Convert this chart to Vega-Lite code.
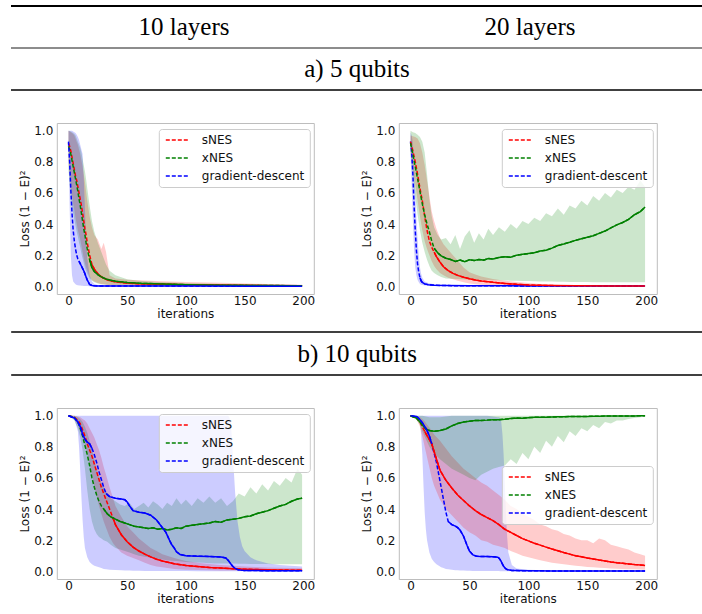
{
"background": "white",
"padding": {"left": 10, "top": 5, "right": 0, "bottom": 0},
"config": {
 "view": {"stroke": "#bdbdbd", "strokeWidth": 1},
 "axis": {"domain": false, "ticks": false, "tickSize": 0, "grid": false, "labelOverlap": false, "labelFlush": false, "labelFont": "DejaVu Sans", "labelFontSize": 12, "labelColor": "#111", "titleFont": "DejaVu Sans", "titleFontSize": 12, "titleFontWeight": "normal", "titleColor": "#111"},
 "legend": {"fillColor": "rgba(255,255,255,0.8)", "strokeColor": "#cccccc", "cornerRadius": 3, "padding": 5, "zindex": 1}
},
"datasets": {"runs": [
{"p":"a10","m":"sNES","i":0,"y":0.92,"lo":0.8,"hi":1},
{"p":"a10","m":"sNES","i":1,"y":0.9,"lo":0.72,"hi":0.995},
{"p":"a10","m":"sNES","i":2,"y":0.87,"lo":0.65,"hi":0.99},
{"p":"a10","m":"sNES","i":3,"y":0.83,"lo":0.58,"hi":0.985},
{"p":"a10","m":"sNES","i":4,"y":0.79,"lo":0.53,"hi":0.98},
{"p":"a10","m":"sNES","i":5,"y":0.75,"lo":0.49,"hi":0.97},
{"p":"a10","m":"sNES","i":6,"y":0.71,"lo":0.44,"hi":0.95},
{"p":"a10","m":"sNES","i":7,"y":0.68,"lo":0.4,"hi":0.93},
{"p":"a10","m":"sNES","i":8,"y":0.64,"lo":0.36,"hi":0.91},
{"p":"a10","m":"sNES","i":9,"y":0.6,"lo":0.33,"hi":0.88},
{"p":"a10","m":"sNES","i":10,"y":0.56,"lo":0.3,"hi":0.85},
{"p":"a10","m":"sNES","i":11,"y":0.52,"lo":0.26,"hi":0.81},
{"p":"a10","m":"sNES","i":12,"y":0.47,"lo":0.22,"hi":0.77},
{"p":"a10","m":"sNES","i":13,"y":0.42,"lo":0.18,"hi":0.72},
{"p":"a10","m":"sNES","i":14,"y":0.37,"lo":0.15,"hi":0.67},
{"p":"a10","m":"sNES","i":15,"y":0.33,"lo":0.12,"hi":0.61},
{"p":"a10","m":"sNES","i":16,"y":0.28,"lo":0.1,"hi":0.55},
{"p":"a10","m":"sNES","i":18,"y":0.2,"lo":0.06,"hi":0.45},
{"p":"a10","m":"sNES","i":20,"y":0.14,"lo":0.04,"hi":0.38},
{"p":"a10","m":"sNES","i":22,"y":0.11,"lo":0.03,"hi":0.33},
{"p":"a10","m":"sNES","i":25,"y":0.08,"lo":0.02,"hi":0.3},
{"p":"a10","m":"sNES","i":28,"y":0.06,"lo":0.015,"hi":0.24},
{"p":"a10","m":"sNES","i":30,"y":0.052,"lo":0.012,"hi":0.28},
{"p":"a10","m":"sNES","i":32,"y":0.045,"lo":0.01,"hi":0.22},
{"p":"a10","m":"sNES","i":35,"y":0.036,"lo":0.008,"hi":0.07},
{"p":"a10","m":"sNES","i":40,"y":0.028,"lo":0.006,"hi":0.05},
{"p":"a10","m":"sNES","i":50,"y":0.02,"lo":0.004,"hi":0.042},
{"p":"a10","m":"sNES","i":60,"y":0.016,"lo":0.003,"hi":0.038},
{"p":"a10","m":"sNES","i":80,"y":0.012,"lo":0.002,"hi":0.032},
{"p":"a10","m":"sNES","i":100,"y":0.009,"lo":0.001,"hi":0.028},
{"p":"a10","m":"sNES","i":130,"y":0.006,"lo":0.001,"hi":0.022},
{"p":"a10","m":"sNES","i":160,"y":0.004,"lo":0,"hi":0.016},
{"p":"a10","m":"sNES","i":199,"y":0.003,"lo":0,"hi":0.01},
{"p":"a10","m":"xNES","i":0,"y":0.9,"lo":0.75,"hi":1},
{"p":"a10","m":"xNES","i":1,"y":0.88,"lo":0.66,"hi":0.998},
{"p":"a10","m":"xNES","i":2,"y":0.85,"lo":0.58,"hi":0.995},
{"p":"a10","m":"xNES","i":3,"y":0.81,"lo":0.52,"hi":0.99},
{"p":"a10","m":"xNES","i":4,"y":0.77,"lo":0.47,"hi":0.985},
{"p":"a10","m":"xNES","i":5,"y":0.73,"lo":0.43,"hi":0.98},
{"p":"a10","m":"xNES","i":6,"y":0.69,"lo":0.39,"hi":0.97},
{"p":"a10","m":"xNES","i":7,"y":0.65,"lo":0.35,"hi":0.95},
{"p":"a10","m":"xNES","i":8,"y":0.61,"lo":0.32,"hi":0.93},
{"p":"a10","m":"xNES","i":9,"y":0.56,"lo":0.28,"hi":0.91},
{"p":"a10","m":"xNES","i":10,"y":0.52,"lo":0.25,"hi":0.89},
{"p":"a10","m":"xNES","i":11,"y":0.47,"lo":0.21,"hi":0.86},
{"p":"a10","m":"xNES","i":12,"y":0.42,"lo":0.18,"hi":0.82},
{"p":"a10","m":"xNES","i":13,"y":0.37,"lo":0.15,"hi":0.78},
{"p":"a10","m":"xNES","i":14,"y":0.33,"lo":0.12,"hi":0.74},
{"p":"a10","m":"xNES","i":15,"y":0.28,"lo":0.1,"hi":0.69},
{"p":"a10","m":"xNES","i":16,"y":0.24,"lo":0.08,"hi":0.63},
{"p":"a10","m":"xNES","i":18,"y":0.17,"lo":0.05,"hi":0.52},
{"p":"a10","m":"xNES","i":20,"y":0.12,"lo":0.035,"hi":0.42},
{"p":"a10","m":"xNES","i":22,"y":0.095,"lo":0.025,"hi":0.35},
{"p":"a10","m":"xNES","i":25,"y":0.075,"lo":0.018,"hi":0.28},
{"p":"a10","m":"xNES","i":28,"y":0.06,"lo":0.013,"hi":0.22},
{"p":"a10","m":"xNES","i":30,"y":0.053,"lo":0.011,"hi":0.18},
{"p":"a10","m":"xNES","i":32,"y":0.047,"lo":0.009,"hi":0.14},
{"p":"a10","m":"xNES","i":35,"y":0.04,"lo":0.007,"hi":0.1},
{"p":"a10","m":"xNES","i":40,"y":0.032,"lo":0.005,"hi":0.07},
{"p":"a10","m":"xNES","i":50,"y":0.024,"lo":0.004,"hi":0.045},
{"p":"a10","m":"xNES","i":60,"y":0.019,"lo":0.003,"hi":0.035},
{"p":"a10","m":"xNES","i":80,"y":0.014,"lo":0.002,"hi":0.026},
{"p":"a10","m":"xNES","i":100,"y":0.01,"lo":0.001,"hi":0.02},
{"p":"a10","m":"xNES","i":130,"y":0.007,"lo":0.001,"hi":0.015},
{"p":"a10","m":"xNES","i":160,"y":0.005,"lo":0,"hi":0.011},
{"p":"a10","m":"xNES","i":199,"y":0.003,"lo":0,"hi":0.007},
{"p":"a10","m":"gradient-descent","i":0,"y":0.93,"lo":0.9,"hi":1},
{"p":"a10","m":"gradient-descent","i":1,"y":0.8,"lo":0.5,"hi":1},
{"p":"a10","m":"gradient-descent","i":2,"y":0.62,"lo":0.2,"hi":1},
{"p":"a10","m":"gradient-descent","i":3,"y":0.47,"lo":0.07,"hi":1},
{"p":"a10","m":"gradient-descent","i":4,"y":0.36,"lo":0.03,"hi":0.995},
{"p":"a10","m":"gradient-descent","i":5,"y":0.29,"lo":0.02,"hi":0.99},
{"p":"a10","m":"gradient-descent","i":6,"y":0.24,"lo":0.012,"hi":0.985},
{"p":"a10","m":"gradient-descent","i":7,"y":0.2,"lo":0.008,"hi":0.975},
{"p":"a10","m":"gradient-descent","i":8,"y":0.175,"lo":0.006,"hi":0.96},
{"p":"a10","m":"gradient-descent","i":9,"y":0.16,"lo":0.005,"hi":0.94},
{"p":"a10","m":"gradient-descent","i":10,"y":0.145,"lo":0.004,"hi":0.91},
{"p":"a10","m":"gradient-descent","i":11,"y":0.13,"lo":0.003,"hi":0.88},
{"p":"a10","m":"gradient-descent","i":12,"y":0.115,"lo":0.003,"hi":0.85},
{"p":"a10","m":"gradient-descent","i":13,"y":0.1,"lo":0.002,"hi":0.7},
{"p":"a10","m":"gradient-descent","i":14,"y":0.08,"lo":0.002,"hi":0.5},
{"p":"a10","m":"gradient-descent","i":15,"y":0.06,"lo":0.001,"hi":0.3},
{"p":"a10","m":"gradient-descent","i":16,"y":0.04,"lo":0.001,"hi":0.18},
{"p":"a10","m":"gradient-descent","i":18,"y":0.012,"lo":0,"hi":0.07},
{"p":"a10","m":"gradient-descent","i":20,"y":0.005,"lo":0,"hi":0.03},
{"p":"a10","m":"gradient-descent","i":22,"y":0.003,"lo":0,"hi":0.015},
{"p":"a10","m":"gradient-descent","i":25,"y":0.002,"lo":0,"hi":0.008},
{"p":"a10","m":"gradient-descent","i":30,"y":0.002,"lo":0,"hi":0.006},
{"p":"a10","m":"gradient-descent","i":40,"y":0.001,"lo":0,"hi":0.005},
{"p":"a10","m":"gradient-descent","i":60,"y":0.001,"lo":0,"hi":0.004},
{"p":"a10","m":"gradient-descent","i":100,"y":0.001,"lo":0,"hi":0.003},
{"p":"a10","m":"gradient-descent","i":160,"y":0,"lo":0,"hi":0.002},
{"p":"a10","m":"gradient-descent","i":199,"y":0,"lo":0,"hi":0.002},
{"p":"a20","m":"gradient-descent","i":0,"y":0.93,"lo":0.85,"hi":0.99},
{"p":"a20","m":"gradient-descent","i":1,"y":0.86,"lo":0.65,"hi":0.97},
{"p":"a20","m":"gradient-descent","i":2,"y":0.72,"lo":0.42,"hi":0.92},
{"p":"a20","m":"gradient-descent","i":3,"y":0.52,"lo":0.24,"hi":0.8},
{"p":"a20","m":"gradient-descent","i":4,"y":0.36,"lo":0.12,"hi":0.6},
{"p":"a20","m":"gradient-descent","i":5,"y":0.23,"lo":0.07,"hi":0.43},
{"p":"a20","m":"gradient-descent","i":6,"y":0.14,"lo":0.04,"hi":0.3},
{"p":"a20","m":"gradient-descent","i":7,"y":0.09,"lo":0.025,"hi":0.2},
{"p":"a20","m":"gradient-descent","i":8,"y":0.055,"lo":0.015,"hi":0.12},
{"p":"a20","m":"gradient-descent","i":9,"y":0.035,"lo":0.01,"hi":0.08},
{"p":"a20","m":"gradient-descent","i":10,"y":0.025,"lo":0.008,"hi":0.055},
{"p":"a20","m":"gradient-descent","i":12,"y":0.015,"lo":0.005,"hi":0.03},
{"p":"a20","m":"gradient-descent","i":15,"y":0.01,"lo":0.003,"hi":0.02},
{"p":"a20","m":"gradient-descent","i":20,"y":0.006,"lo":0.002,"hi":0.012},
{"p":"a20","m":"gradient-descent","i":30,"y":0.004,"lo":0.001,"hi":0.008},
{"p":"a20","m":"gradient-descent","i":50,"y":0.003,"lo":0,"hi":0.006},
{"p":"a20","m":"gradient-descent","i":100,"y":0.002,"lo":0,"hi":0.005},
{"p":"a20","m":"gradient-descent","i":150,"y":0.002,"lo":0,"hi":0.004},
{"p":"a20","m":"gradient-descent","i":199,"y":0.001,"lo":0,"hi":0.004},
{"p":"a20","m":"sNES","i":0,"y":0.93,"lo":0.88,"hi":0.97},
{"p":"a20","m":"sNES","i":2,"y":0.87,"lo":0.78,"hi":0.965},
{"p":"a20","m":"sNES","i":4,"y":0.8,"lo":0.66,"hi":0.96},
{"p":"a20","m":"sNES","i":6,"y":0.72,"lo":0.55,"hi":0.95},
{"p":"a20","m":"sNES","i":8,"y":0.63,"lo":0.45,"hi":0.92},
{"p":"a20","m":"sNES","i":10,"y":0.55,"lo":0.36,"hi":0.86},
{"p":"a20","m":"sNES","i":12,"y":0.45,"lo":0.29,"hi":0.78},
{"p":"a20","m":"sNES","i":14,"y":0.36,"lo":0.24,"hi":0.68},
{"p":"a20","m":"sNES","i":16,"y":0.29,"lo":0.2,"hi":0.58},
{"p":"a20","m":"sNES","i":18,"y":0.25,"lo":0.16,"hi":0.48},
{"p":"a20","m":"sNES","i":20,"y":0.22,"lo":0.13,"hi":0.42},
{"p":"a20","m":"sNES","i":22,"y":0.19,"lo":0.11,"hi":0.37},
{"p":"a20","m":"sNES","i":25,"y":0.155,"lo":0.085,"hi":0.31},
{"p":"a20","m":"sNES","i":28,"y":0.125,"lo":0.07,"hi":0.27},
{"p":"a20","m":"sNES","i":32,"y":0.1,"lo":0.055,"hi":0.235},
{"p":"a20","m":"sNES","i":36,"y":0.083,"lo":0.045,"hi":0.2},
{"p":"a20","m":"sNES","i":40,"y":0.07,"lo":0.035,"hi":0.165},
{"p":"a20","m":"sNES","i":45,"y":0.058,"lo":0.025,"hi":0.12},
{"p":"a20","m":"sNES","i":50,"y":0.048,"lo":0.018,"hi":0.09},
{"p":"a20","m":"sNES","i":55,"y":0.04,"lo":0.013,"hi":0.075},
{"p":"a20","m":"sNES","i":60,"y":0.034,"lo":0.01,"hi":0.062},
{"p":"a20","m":"sNES","i":70,"y":0.025,"lo":0.006,"hi":0.047},
{"p":"a20","m":"sNES","i":80,"y":0.018,"lo":0.004,"hi":0.036},
{"p":"a20","m":"sNES","i":90,"y":0.012,"lo":0.003,"hi":0.027},
{"p":"a20","m":"sNES","i":100,"y":0.008,"lo":0.002,"hi":0.02},
{"p":"a20","m":"sNES","i":110,"y":0.006,"lo":0.001,"hi":0.014},
{"p":"a20","m":"sNES","i":120,"y":0.004,"lo":0.001,"hi":0.01},
{"p":"a20","m":"sNES","i":140,"y":0.003,"lo":0,"hi":0.006},
{"p":"a20","m":"sNES","i":170,"y":0.002,"lo":0,"hi":0.004},
{"p":"a20","m":"sNES","i":199,"y":0.002,"lo":0,"hi":0.003},
{"p":"a20","m":"xNES","i":0,"y":0.92,"lo":0.85,"hi":1},
{"p":"a20","m":"xNES","i":2,"y":0.85,"lo":0.72,"hi":0.99},
{"p":"a20","m":"xNES","i":4,"y":0.77,"lo":0.58,"hi":0.985},
{"p":"a20","m":"xNES","i":6,"y":0.69,"lo":0.46,"hi":0.975},
{"p":"a20","m":"xNES","i":8,"y":0.61,"lo":0.36,"hi":0.96},
{"p":"a20","m":"xNES","i":10,"y":0.53,"lo":0.28,"hi":0.93},
{"p":"a20","m":"xNES","i":12,"y":0.46,"lo":0.22,"hi":0.86},
{"p":"a20","m":"xNES","i":14,"y":0.4,"lo":0.17,"hi":0.72},
{"p":"a20","m":"xNES","i":16,"y":0.35,"lo":0.13,"hi":0.56},
{"p":"a20","m":"xNES","i":18,"y":0.29,"lo":0.1,"hi":0.45},
{"p":"a20","m":"xNES","i":20,"y":0.245,"lo":0.085,"hi":0.38},
{"p":"a20","m":"xNES","i":23,"y":0.215,"lo":0.07,"hi":0.33},
{"p":"a20","m":"xNES","i":26,"y":0.195,"lo":0.06,"hi":0.3},
{"p":"a20","m":"xNES","i":30,"y":0.18,"lo":0.05,"hi":0.31},
{"p":"a20","m":"xNES","i":34,"y":0.172,"lo":0.048,"hi":0.27},
{"p":"a20","m":"xNES","i":38,"y":0.16,"lo":0.046,"hi":0.33},
{"p":"a20","m":"xNES","i":42,"y":0.168,"lo":0.045,"hi":0.24},
{"p":"a20","m":"xNES","i":46,"y":0.158,"lo":0.044,"hi":0.32},
{"p":"a20","m":"xNES","i":50,"y":0.17,"lo":0.043,"hi":0.36},
{"p":"a20","m":"xNES","i":54,"y":0.165,"lo":0.042,"hi":0.28},
{"p":"a20","m":"xNES","i":58,"y":0.172,"lo":0.041,"hi":0.34},
{"p":"a20","m":"xNES","i":62,"y":0.168,"lo":0.04,"hi":0.3},
{"p":"a20","m":"xNES","i":66,"y":0.178,"lo":0.04,"hi":0.37},
{"p":"a20","m":"xNES","i":70,"y":0.175,"lo":0.039,"hi":0.33},
{"p":"a20","m":"xNES","i":75,"y":0.185,"lo":0.038,"hi":0.38},
{"p":"a20","m":"xNES","i":80,"y":0.19,"lo":0.037,"hi":0.35},
{"p":"a20","m":"xNES","i":85,"y":0.186,"lo":0.036,"hi":0.4},
{"p":"a20","m":"xNES","i":90,"y":0.2,"lo":0.035,"hi":0.37},
{"p":"a20","m":"xNES","i":95,"y":0.205,"lo":0.034,"hi":0.42},
{"p":"a20","m":"xNES","i":100,"y":0.21,"lo":0.033,"hi":0.4},
{"p":"a20","m":"xNES","i":105,"y":0.215,"lo":0.032,"hi":0.44},
{"p":"a20","m":"xNES","i":110,"y":0.226,"lo":0.031,"hi":0.42},
{"p":"a20","m":"xNES","i":115,"y":0.232,"lo":0.03,"hi":0.47},
{"p":"a20","m":"xNES","i":120,"y":0.245,"lo":0.03,"hi":0.45},
{"p":"a20","m":"xNES","i":125,"y":0.262,"lo":0.029,"hi":0.5},
{"p":"a20","m":"xNES","i":130,"y":0.272,"lo":0.029,"hi":0.46},
{"p":"a20","m":"xNES","i":135,"y":0.283,"lo":0.028,"hi":0.52},
{"p":"a20","m":"xNES","i":140,"y":0.295,"lo":0.028,"hi":0.5},
{"p":"a20","m":"xNES","i":145,"y":0.305,"lo":0.027,"hi":0.55},
{"p":"a20","m":"xNES","i":150,"y":0.315,"lo":0.027,"hi":0.52},
{"p":"a20","m":"xNES","i":155,"y":0.325,"lo":0.026,"hi":0.58},
{"p":"a20","m":"xNES","i":160,"y":0.34,"lo":0.026,"hi":0.55},
{"p":"a20","m":"xNES","i":165,"y":0.355,"lo":0.026,"hi":0.6},
{"p":"a20","m":"xNES","i":170,"y":0.375,"lo":0.025,"hi":0.57},
{"p":"a20","m":"xNES","i":175,"y":0.395,"lo":0.025,"hi":0.62},
{"p":"a20","m":"xNES","i":180,"y":0.41,"lo":0.025,"hi":0.6},
{"p":"a20","m":"xNES","i":185,"y":0.43,"lo":0.025,"hi":0.64},
{"p":"a20","m":"xNES","i":190,"y":0.46,"lo":0.025,"hi":0.62},
{"p":"a20","m":"xNES","i":195,"y":0.48,"lo":0.025,"hi":0.68},
{"p":"a20","m":"xNES","i":199,"y":0.51,"lo":0.025,"hi":0.64},
{"p":"b10","m":"sNES","i":0,"y":1,"lo":1,"hi":1},
{"p":"b10","m":"sNES","i":5,"y":0.99,"lo":0.98,"hi":1},
{"p":"b10","m":"sNES","i":8,"y":0.97,"lo":0.94,"hi":0.995},
{"p":"b10","m":"sNES","i":10,"y":0.95,"lo":0.9,"hi":0.99},
{"p":"b10","m":"sNES","i":12,"y":0.91,"lo":0.86,"hi":0.98},
{"p":"b10","m":"sNES","i":14,"y":0.87,"lo":0.82,"hi":0.97},
{"p":"b10","m":"sNES","i":16,"y":0.82,"lo":0.76,"hi":0.95},
{"p":"b10","m":"sNES","i":18,"y":0.78,"lo":0.69,"hi":0.92},
{"p":"b10","m":"sNES","i":20,"y":0.74,"lo":0.62,"hi":0.89},
{"p":"b10","m":"sNES","i":22,"y":0.69,"lo":0.55,"hi":0.86},
{"p":"b10","m":"sNES","i":24,"y":0.64,"lo":0.48,"hi":0.82},
{"p":"b10","m":"sNES","i":26,"y":0.59,"lo":0.42,"hi":0.78},
{"p":"b10","m":"sNES","i":28,"y":0.54,"lo":0.37,"hi":0.73},
{"p":"b10","m":"sNES","i":30,"y":0.5,"lo":0.32,"hi":0.67},
{"p":"b10","m":"sNES","i":32,"y":0.46,"lo":0.28,"hi":0.62},
{"p":"b10","m":"sNES","i":35,"y":0.4,"lo":0.22,"hi":0.54},
{"p":"b10","m":"sNES","i":38,"y":0.34,"lo":0.18,"hi":0.47},
{"p":"b10","m":"sNES","i":40,"y":0.3,"lo":0.16,"hi":0.42},
{"p":"b10","m":"sNES","i":45,"y":0.235,"lo":0.12,"hi":0.35},
{"p":"b10","m":"sNES","i":50,"y":0.19,"lo":0.1,"hi":0.29},
{"p":"b10","m":"sNES","i":55,"y":0.155,"lo":0.085,"hi":0.25},
{"p":"b10","m":"sNES","i":60,"y":0.13,"lo":0.07,"hi":0.21},
{"p":"b10","m":"sNES","i":65,"y":0.11,"lo":0.055,"hi":0.18},
{"p":"b10","m":"sNES","i":70,"y":0.092,"lo":0.04,"hi":0.15},
{"p":"b10","m":"sNES","i":75,"y":0.077,"lo":0.03,"hi":0.13},
{"p":"b10","m":"sNES","i":80,"y":0.066,"lo":0.025,"hi":0.11},
{"p":"b10","m":"sNES","i":90,"y":0.048,"lo":0.015,"hi":0.085},
{"p":"b10","m":"sNES","i":100,"y":0.037,"lo":0.01,"hi":0.065},
{"p":"b10","m":"sNES","i":110,"y":0.03,"lo":0.008,"hi":0.055},
{"p":"b10","m":"sNES","i":120,"y":0.024,"lo":0.006,"hi":0.047},
{"p":"b10","m":"sNES","i":130,"y":0.02,"lo":0.005,"hi":0.04},
{"p":"b10","m":"sNES","i":140,"y":0.016,"lo":0.004,"hi":0.035},
{"p":"b10","m":"sNES","i":150,"y":0.013,"lo":0.003,"hi":0.03},
{"p":"b10","m":"sNES","i":160,"y":0.011,"lo":0.003,"hi":0.027},
{"p":"b10","m":"sNES","i":170,"y":0.009,"lo":0.002,"hi":0.024},
{"p":"b10","m":"sNES","i":180,"y":0.008,"lo":0.002,"hi":0.022},
{"p":"b10","m":"sNES","i":190,"y":0.007,"lo":0.002,"hi":0.02},
{"p":"b10","m":"sNES","i":199,"y":0.006,"lo":0.001,"hi":0.019},
{"p":"b10","m":"xNES","i":0,"y":1,"lo":1,"hi":1},
{"p":"b10","m":"xNES","i":5,"y":0.99,"lo":0.97,"hi":1},
{"p":"b10","m":"xNES","i":8,"y":0.96,"lo":0.92,"hi":0.99},
{"p":"b10","m":"xNES","i":10,"y":0.92,"lo":0.86,"hi":0.98},
{"p":"b10","m":"xNES","i":12,"y":0.87,"lo":0.78,"hi":0.96},
{"p":"b10","m":"xNES","i":14,"y":0.81,"lo":0.66,"hi":0.93},
{"p":"b10","m":"xNES","i":16,"y":0.75,"lo":0.52,"hi":0.89},
{"p":"b10","m":"xNES","i":18,"y":0.68,"lo":0.4,"hi":0.84},
{"p":"b10","m":"xNES","i":20,"y":0.6,"lo":0.32,"hi":0.78},
{"p":"b10","m":"xNES","i":22,"y":0.54,"lo":0.27,"hi":0.72},
{"p":"b10","m":"xNES","i":24,"y":0.49,"lo":0.24,"hi":0.66},
{"p":"b10","m":"xNES","i":26,"y":0.45,"lo":0.22,"hi":0.61},
{"p":"b10","m":"xNES","i":28,"y":0.42,"lo":0.21,"hi":0.57},
{"p":"b10","m":"xNES","i":30,"y":0.4,"lo":0.2,"hi":0.54},
{"p":"b10","m":"xNES","i":33,"y":0.37,"lo":0.19,"hi":0.5},
{"p":"b10","m":"xNES","i":36,"y":0.35,"lo":0.17,"hi":0.47},
{"p":"b10","m":"xNES","i":40,"y":0.335,"lo":0.15,"hi":0.45},
{"p":"b10","m":"xNES","i":44,"y":0.32,"lo":0.14,"hi":0.43},
{"p":"b10","m":"xNES","i":48,"y":0.31,"lo":0.13,"hi":0.42},
{"p":"b10","m":"xNES","i":52,"y":0.3,"lo":0.12,"hi":0.44},
{"p":"b10","m":"xNES","i":56,"y":0.29,"lo":0.11,"hi":0.4},
{"p":"b10","m":"xNES","i":60,"y":0.285,"lo":0.1,"hi":0.42},
{"p":"b10","m":"xNES","i":64,"y":0.28,"lo":0.095,"hi":0.44},
{"p":"b10","m":"xNES","i":68,"y":0.275,"lo":0.09,"hi":0.41},
{"p":"b10","m":"xNES","i":72,"y":0.28,"lo":0.085,"hi":0.45},
{"p":"b10","m":"xNES","i":76,"y":0.27,"lo":0.08,"hi":0.43},
{"p":"b10","m":"xNES","i":80,"y":0.275,"lo":0.075,"hi":0.4},
{"p":"b10","m":"xNES","i":84,"y":0.265,"lo":0.07,"hi":0.44},
{"p":"b10","m":"xNES","i":88,"y":0.27,"lo":0.068,"hi":0.42},
{"p":"b10","m":"xNES","i":92,"y":0.28,"lo":0.065,"hi":0.47},
{"p":"b10","m":"xNES","i":96,"y":0.275,"lo":0.063,"hi":0.43},
{"p":"b10","m":"xNES","i":100,"y":0.29,"lo":0.06,"hi":0.46},
{"p":"b10","m":"xNES","i":105,"y":0.295,"lo":0.058,"hi":0.42},
{"p":"b10","m":"xNES","i":110,"y":0.3,"lo":0.056,"hi":0.47},
{"p":"b10","m":"xNES","i":115,"y":0.305,"lo":0.054,"hi":0.44},
{"p":"b10","m":"xNES","i":120,"y":0.31,"lo":0.052,"hi":0.48},
{"p":"b10","m":"xNES","i":125,"y":0.32,"lo":0.05,"hi":0.44},
{"p":"b10","m":"xNES","i":130,"y":0.315,"lo":0.05,"hi":0.47},
{"p":"b10","m":"xNES","i":135,"y":0.33,"lo":0.05,"hi":0.42},
{"p":"b10","m":"xNES","i":140,"y":0.335,"lo":0.05,"hi":0.45},
{"p":"b10","m":"xNES","i":145,"y":0.34,"lo":0.048,"hi":0.5},
{"p":"b10","m":"xNES","i":150,"y":0.35,"lo":0.048,"hi":0.48},
{"p":"b10","m":"xNES","i":155,"y":0.355,"lo":0.047,"hi":0.54},
{"p":"b10","m":"xNES","i":160,"y":0.37,"lo":0.047,"hi":0.5},
{"p":"b10","m":"xNES","i":165,"y":0.38,"lo":0.046,"hi":0.56},
{"p":"b10","m":"xNES","i":170,"y":0.39,"lo":0.046,"hi":0.52},
{"p":"b10","m":"xNES","i":175,"y":0.405,"lo":0.045,"hi":0.58},
{"p":"b10","m":"xNES","i":180,"y":0.42,"lo":0.045,"hi":0.55},
{"p":"b10","m":"xNES","i":185,"y":0.43,"lo":0.045,"hi":0.6},
{"p":"b10","m":"xNES","i":190,"y":0.45,"lo":0.045,"hi":0.57},
{"p":"b10","m":"xNES","i":195,"y":0.465,"lo":0.045,"hi":0.66},
{"p":"b10","m":"xNES","i":199,"y":0.47,"lo":0.045,"hi":0.62},
{"p":"b10","m":"gradient-descent","i":0,"y":1,"lo":1,"hi":1},
{"p":"b10","m":"gradient-descent","i":5,"y":0.985,"lo":0.98,"hi":1},
{"p":"b10","m":"gradient-descent","i":8,"y":0.96,"lo":0.9,"hi":1},
{"p":"b10","m":"gradient-descent","i":9,"y":0.945,"lo":0.8,"hi":1},
{"p":"b10","m":"gradient-descent","i":10,"y":0.93,"lo":0.65,"hi":1},
{"p":"b10","m":"gradient-descent","i":11,"y":0.91,"lo":0.48,"hi":1},
{"p":"b10","m":"gradient-descent","i":12,"y":0.88,"lo":0.33,"hi":1},
{"p":"b10","m":"gradient-descent","i":13,"y":0.865,"lo":0.22,"hi":1},
{"p":"b10","m":"gradient-descent","i":14,"y":0.85,"lo":0.15,"hi":1},
{"p":"b10","m":"gradient-descent","i":16,"y":0.83,"lo":0.09,"hi":1},
{"p":"b10","m":"gradient-descent","i":18,"y":0.82,"lo":0.06,"hi":1},
{"p":"b10","m":"gradient-descent","i":20,"y":0.79,"lo":0.045,"hi":1},
{"p":"b10","m":"gradient-descent","i":22,"y":0.75,"lo":0.035,"hi":1},
{"p":"b10","m":"gradient-descent","i":24,"y":0.7,"lo":0.03,"hi":1},
{"p":"b10","m":"gradient-descent","i":26,"y":0.64,"lo":0.025,"hi":1},
{"p":"b10","m":"gradient-descent","i":28,"y":0.59,"lo":0.02,"hi":1},
{"p":"b10","m":"gradient-descent","i":30,"y":0.54,"lo":0.015,"hi":1},
{"p":"b10","m":"gradient-descent","i":32,"y":0.5,"lo":0.012,"hi":1},
{"p":"b10","m":"gradient-descent","i":35,"y":0.48,"lo":0.01,"hi":1},
{"p":"b10","m":"gradient-descent","i":40,"y":0.47,"lo":0.008,"hi":1},
{"p":"b10","m":"gradient-descent","i":45,"y":0.465,"lo":0.006,"hi":1},
{"p":"b10","m":"gradient-descent","i":48,"y":0.46,"lo":0.005,"hi":1},
{"p":"b10","m":"gradient-descent","i":50,"y":0.445,"lo":0.004,"hi":1},
{"p":"b10","m":"gradient-descent","i":52,"y":0.42,"lo":0.004,"hi":1},
{"p":"b10","m":"gradient-descent","i":55,"y":0.39,"lo":0.003,"hi":1},
{"p":"b10","m":"gradient-descent","i":60,"y":0.38,"lo":0.003,"hi":1},
{"p":"b10","m":"gradient-descent","i":65,"y":0.375,"lo":0.002,"hi":1},
{"p":"b10","m":"gradient-descent","i":70,"y":0.36,"lo":0.002,"hi":1},
{"p":"b10","m":"gradient-descent","i":75,"y":0.33,"lo":0.002,"hi":1},
{"p":"b10","m":"gradient-descent","i":80,"y":0.28,"lo":0.001,"hi":1},
{"p":"b10","m":"gradient-descent","i":83,"y":0.25,"lo":0.001,"hi":1},
{"p":"b10","m":"gradient-descent","i":86,"y":0.2,"lo":0.001,"hi":1},
{"p":"b10","m":"gradient-descent","i":88,"y":0.17,"lo":0.001,"hi":1},
{"p":"b10","m":"gradient-descent","i":90,"y":0.15,"lo":0.001,"hi":1},
{"p":"b10","m":"gradient-descent","i":92,"y":0.125,"lo":0.001,"hi":1},
{"p":"b10","m":"gradient-descent","i":95,"y":0.108,"lo":0.001,"hi":1},
{"p":"b10","m":"gradient-descent","i":100,"y":0.1,"lo":0.001,"hi":1},
{"p":"b10","m":"gradient-descent","i":110,"y":0.097,"lo":0,"hi":1},
{"p":"b10","m":"gradient-descent","i":120,"y":0.095,"lo":0,"hi":1},
{"p":"b10","m":"gradient-descent","i":130,"y":0.092,"lo":0,"hi":1},
{"p":"b10","m":"gradient-descent","i":134,"y":0.085,"lo":0,"hi":1},
{"p":"b10","m":"gradient-descent","i":136,"y":0.07,"lo":0,"hi":1},
{"p":"b10","m":"gradient-descent","i":137,"y":0.06,"lo":0,"hi":0.99},
{"p":"b10","m":"gradient-descent","i":138,"y":0.05,"lo":0,"hi":0.96},
{"p":"b10","m":"gradient-descent","i":139,"y":0.04,"lo":0,"hi":0.88},
{"p":"b10","m":"gradient-descent","i":140,"y":0.03,"lo":0,"hi":0.75},
{"p":"b10","m":"gradient-descent","i":142,"y":0.018,"lo":0,"hi":0.5},
{"p":"b10","m":"gradient-descent","i":144,"y":0.011,"lo":0,"hi":0.32},
{"p":"b10","m":"gradient-descent","i":146,"y":0.008,"lo":0,"hi":0.22},
{"p":"b10","m":"gradient-descent","i":148,"y":0.006,"lo":0,"hi":0.16},
{"p":"b10","m":"gradient-descent","i":150,"y":0.005,"lo":0,"hi":0.13},
{"p":"b10","m":"gradient-descent","i":155,"y":0.004,"lo":0,"hi":0.09},
{"p":"b10","m":"gradient-descent","i":160,"y":0.004,"lo":0,"hi":0.07},
{"p":"b10","m":"gradient-descent","i":170,"y":0.003,"lo":0,"hi":0.05},
{"p":"b10","m":"gradient-descent","i":180,"y":0.003,"lo":0,"hi":0.04},
{"p":"b10","m":"gradient-descent","i":199,"y":0.003,"lo":0,"hi":0.03},
{"p":"b20","m":"gradient-descent","i":0,"y":1,"lo":1,"hi":1},
{"p":"b20","m":"gradient-descent","i":5,"y":0.995,"lo":0.995,"hi":1},
{"p":"b20","m":"gradient-descent","i":6,"y":0.99,"lo":0.99,"hi":1},
{"p":"b20","m":"gradient-descent","i":8,"y":0.975,"lo":0.95,"hi":1},
{"p":"b20","m":"gradient-descent","i":9,"y":0.965,"lo":0.88,"hi":1},
{"p":"b20","m":"gradient-descent","i":10,"y":0.955,"lo":0.75,"hi":1},
{"p":"b20","m":"gradient-descent","i":11,"y":0.945,"lo":0.55,"hi":1},
{"p":"b20","m":"gradient-descent","i":12,"y":0.93,"lo":0.38,"hi":1},
{"p":"b20","m":"gradient-descent","i":13,"y":0.92,"lo":0.27,"hi":1},
{"p":"b20","m":"gradient-descent","i":14,"y":0.905,"lo":0.2,"hi":1},
{"p":"b20","m":"gradient-descent","i":16,"y":0.87,"lo":0.12,"hi":1},
{"p":"b20","m":"gradient-descent","i":18,"y":0.82,"lo":0.08,"hi":1},
{"p":"b20","m":"gradient-descent","i":20,"y":0.76,"lo":0.06,"hi":1},
{"p":"b20","m":"gradient-descent","i":22,"y":0.7,"lo":0.045,"hi":1},
{"p":"b20","m":"gradient-descent","i":24,"y":0.62,"lo":0.035,"hi":1},
{"p":"b20","m":"gradient-descent","i":26,"y":0.54,"lo":0.025,"hi":1},
{"p":"b20","m":"gradient-descent","i":28,"y":0.46,"lo":0.02,"hi":1},
{"p":"b20","m":"gradient-descent","i":30,"y":0.38,"lo":0.015,"hi":1},
{"p":"b20","m":"gradient-descent","i":32,"y":0.32,"lo":0.012,"hi":1},
{"p":"b20","m":"gradient-descent","i":35,"y":0.3,"lo":0.009,"hi":1},
{"p":"b20","m":"gradient-descent","i":38,"y":0.29,"lo":0.007,"hi":1},
{"p":"b20","m":"gradient-descent","i":40,"y":0.28,"lo":0.006,"hi":1},
{"p":"b20","m":"gradient-descent","i":42,"y":0.265,"lo":0.005,"hi":1},
{"p":"b20","m":"gradient-descent","i":45,"y":0.225,"lo":0.004,"hi":1},
{"p":"b20","m":"gradient-descent","i":48,"y":0.165,"lo":0.003,"hi":1},
{"p":"b20","m":"gradient-descent","i":50,"y":0.13,"lo":0.003,"hi":1},
{"p":"b20","m":"gradient-descent","i":53,"y":0.105,"lo":0.002,"hi":1},
{"p":"b20","m":"gradient-descent","i":56,"y":0.097,"lo":0.002,"hi":1},
{"p":"b20","m":"gradient-descent","i":60,"y":0.095,"lo":0.002,"hi":1},
{"p":"b20","m":"gradient-descent","i":65,"y":0.095,"lo":0.001,"hi":1},
{"p":"b20","m":"gradient-descent","i":70,"y":0.093,"lo":0.001,"hi":0.995},
{"p":"b20","m":"gradient-descent","i":74,"y":0.09,"lo":0.001,"hi":0.99},
{"p":"b20","m":"gradient-descent","i":75,"y":0.085,"lo":0.001,"hi":0.99},
{"p":"b20","m":"gradient-descent","i":76,"y":0.075,"lo":0,"hi":0.985},
{"p":"b20","m":"gradient-descent","i":77,"y":0.062,"lo":0,"hi":0.96},
{"p":"b20","m":"gradient-descent","i":78,"y":0.045,"lo":0,"hi":0.88},
{"p":"b20","m":"gradient-descent","i":79,"y":0.032,"lo":0,"hi":0.75},
{"p":"b20","m":"gradient-descent","i":80,"y":0.022,"lo":0,"hi":0.56},
{"p":"b20","m":"gradient-descent","i":81,"y":0.015,"lo":0,"hi":0.37},
{"p":"b20","m":"gradient-descent","i":82,"y":0.011,"lo":0,"hi":0.22},
{"p":"b20","m":"gradient-descent","i":83,"y":0.009,"lo":0,"hi":0.12},
{"p":"b20","m":"gradient-descent","i":86,"y":0.005,"lo":0,"hi":0.04},
{"p":"b20","m":"gradient-descent","i":90,"y":0.004,"lo":0,"hi":0.018},
{"p":"b20","m":"gradient-descent","i":100,"y":0.003,"lo":0,"hi":0.009},
{"p":"b20","m":"gradient-descent","i":120,"y":0.002,"lo":0,"hi":0.005},
{"p":"b20","m":"gradient-descent","i":150,"y":0.002,"lo":0,"hi":0.004},
{"p":"b20","m":"gradient-descent","i":199,"y":0.002,"lo":0,"hi":0.003},
{"p":"b20","m":"sNES","i":0,"y":1,"lo":1,"hi":1},
{"p":"b20","m":"sNES","i":5,"y":0.985,"lo":0.98,"hi":1},
{"p":"b20","m":"sNES","i":8,"y":0.96,"lo":0.93,"hi":0.99},
{"p":"b20","m":"sNES","i":10,"y":0.93,"lo":0.87,"hi":0.98},
{"p":"b20","m":"sNES","i":12,"y":0.9,"lo":0.8,"hi":0.965},
{"p":"b20","m":"sNES","i":15,"y":0.86,"lo":0.7,"hi":0.935},
{"p":"b20","m":"sNES","i":18,"y":0.82,"lo":0.6,"hi":0.905},
{"p":"b20","m":"sNES","i":20,"y":0.77,"lo":0.55,"hi":0.88},
{"p":"b20","m":"sNES","i":25,"y":0.65,"lo":0.46,"hi":0.84},
{"p":"b20","m":"sNES","i":30,"y":0.585,"lo":0.4,"hi":0.79},
{"p":"b20","m":"sNES","i":35,"y":0.535,"lo":0.36,"hi":0.74},
{"p":"b20","m":"sNES","i":40,"y":0.49,"lo":0.32,"hi":0.7},
{"p":"b20","m":"sNES","i":45,"y":0.455,"lo":0.28,"hi":0.66},
{"p":"b20","m":"sNES","i":50,"y":0.42,"lo":0.25,"hi":0.63},
{"p":"b20","m":"sNES","i":55,"y":0.39,"lo":0.23,"hi":0.6},
{"p":"b20","m":"sNES","i":60,"y":0.365,"lo":0.2,"hi":0.57},
{"p":"b20","m":"sNES","i":65,"y":0.345,"lo":0.19,"hi":0.55},
{"p":"b20","m":"sNES","i":70,"y":0.325,"lo":0.17,"hi":0.52},
{"p":"b20","m":"sNES","i":75,"y":0.3,"lo":0.16,"hi":0.49},
{"p":"b20","m":"sNES","i":80,"y":0.27,"lo":0.15,"hi":0.46},
{"p":"b20","m":"sNES","i":85,"y":0.25,"lo":0.13,"hi":0.42},
{"p":"b20","m":"sNES","i":90,"y":0.23,"lo":0.115,"hi":0.4},
{"p":"b20","m":"sNES","i":95,"y":0.21,"lo":0.1,"hi":0.37},
{"p":"b20","m":"sNES","i":100,"y":0.195,"lo":0.09,"hi":0.35},
{"p":"b20","m":"sNES","i":105,"y":0.18,"lo":0.08,"hi":0.33},
{"p":"b20","m":"sNES","i":110,"y":0.168,"lo":0.07,"hi":0.3},
{"p":"b20","m":"sNES","i":115,"y":0.155,"lo":0.062,"hi":0.29},
{"p":"b20","m":"sNES","i":120,"y":0.143,"lo":0.055,"hi":0.27},
{"p":"b20","m":"sNES","i":125,"y":0.132,"lo":0.05,"hi":0.26},
{"p":"b20","m":"sNES","i":130,"y":0.12,"lo":0.045,"hi":0.24},
{"p":"b20","m":"sNES","i":135,"y":0.11,"lo":0.04,"hi":0.23},
{"p":"b20","m":"sNES","i":140,"y":0.1,"lo":0.035,"hi":0.21},
{"p":"b20","m":"sNES","i":145,"y":0.093,"lo":0.032,"hi":0.2},
{"p":"b20","m":"sNES","i":150,"y":0.085,"lo":0.028,"hi":0.2},
{"p":"b20","m":"sNES","i":155,"y":0.079,"lo":0.025,"hi":0.18},
{"p":"b20","m":"sNES","i":160,"y":0.072,"lo":0.022,"hi":0.21},
{"p":"b20","m":"sNES","i":165,"y":0.066,"lo":0.02,"hi":0.2},
{"p":"b20","m":"sNES","i":170,"y":0.06,"lo":0.018,"hi":0.17},
{"p":"b20","m":"sNES","i":175,"y":0.055,"lo":0.016,"hi":0.16},
{"p":"b20","m":"sNES","i":180,"y":0.051,"lo":0.014,"hi":0.15},
{"p":"b20","m":"sNES","i":185,"y":0.047,"lo":0.013,"hi":0.14},
{"p":"b20","m":"sNES","i":190,"y":0.043,"lo":0.012,"hi":0.12},
{"p":"b20","m":"sNES","i":195,"y":0.04,"lo":0.011,"hi":0.11},
{"p":"b20","m":"sNES","i":199,"y":0.037,"lo":0.01,"hi":0.1},
{"p":"b20","m":"xNES","i":0,"y":1,"lo":1,"hi":1},
{"p":"b20","m":"xNES","i":5,"y":0.985,"lo":0.975,"hi":1},
{"p":"b20","m":"xNES","i":8,"y":0.96,"lo":0.94,"hi":1},
{"p":"b20","m":"xNES","i":10,"y":0.94,"lo":0.9,"hi":1},
{"p":"b20","m":"xNES","i":13,"y":0.915,"lo":0.85,"hi":0.995},
{"p":"b20","m":"xNES","i":16,"y":0.905,"lo":0.8,"hi":0.99},
{"p":"b20","m":"xNES","i":20,"y":0.9,"lo":0.76,"hi":0.99},
{"p":"b20","m":"xNES","i":25,"y":0.905,"lo":0.72,"hi":0.99},
{"p":"b20","m":"xNES","i":30,"y":0.915,"lo":0.69,"hi":0.995},
{"p":"b20","m":"xNES","i":35,"y":0.935,"lo":0.66,"hi":1},
{"p":"b20","m":"xNES","i":40,"y":0.95,"lo":0.64,"hi":1},
{"p":"b20","m":"xNES","i":45,"y":0.96,"lo":0.62,"hi":1},
{"p":"b20","m":"xNES","i":50,"y":0.965,"lo":0.6,"hi":1},
{"p":"b20","m":"xNES","i":55,"y":0.97,"lo":0.585,"hi":1},
{"p":"b20","m":"xNES","i":60,"y":0.97,"lo":0.62,"hi":1},
{"p":"b20","m":"xNES","i":65,"y":0.972,"lo":0.64,"hi":1},
{"p":"b20","m":"xNES","i":70,"y":0.975,"lo":0.66,"hi":1},
{"p":"b20","m":"xNES","i":75,"y":0.975,"lo":0.67,"hi":1},
{"p":"b20","m":"xNES","i":80,"y":0.978,"lo":0.68,"hi":1},
{"p":"b20","m":"xNES","i":85,"y":0.982,"lo":0.72,"hi":1},
{"p":"b20","m":"xNES","i":90,"y":0.985,"lo":0.69,"hi":1},
{"p":"b20","m":"xNES","i":95,"y":0.984,"lo":0.76,"hi":1},
{"p":"b20","m":"xNES","i":100,"y":0.988,"lo":0.72,"hi":1},
{"p":"b20","m":"xNES","i":105,"y":0.99,"lo":0.8,"hi":1},
{"p":"b20","m":"xNES","i":110,"y":0.99,"lo":0.76,"hi":1},
{"p":"b20","m":"xNES","i":115,"y":0.991,"lo":0.84,"hi":1},
{"p":"b20","m":"xNES","i":120,"y":0.992,"lo":0.8,"hi":1},
{"p":"b20","m":"xNES","i":125,"y":0.993,"lo":0.87,"hi":1},
{"p":"b20","m":"xNES","i":130,"y":0.994,"lo":0.83,"hi":1},
{"p":"b20","m":"xNES","i":135,"y":0.995,"lo":0.9,"hi":1},
{"p":"b20","m":"xNES","i":140,"y":0.995,"lo":0.87,"hi":1},
{"p":"b20","m":"xNES","i":145,"y":0.996,"lo":0.92,"hi":1},
{"p":"b20","m":"xNES","i":150,"y":0.996,"lo":0.9,"hi":1},
{"p":"b20","m":"xNES","i":155,"y":0.997,"lo":0.94,"hi":1},
{"p":"b20","m":"xNES","i":160,"y":0.997,"lo":0.92,"hi":1},
{"p":"b20","m":"xNES","i":165,"y":0.998,"lo":0.96,"hi":1},
{"p":"b20","m":"xNES","i":170,"y":0.998,"lo":0.95,"hi":1},
{"p":"b20","m":"xNES","i":175,"y":0.998,"lo":0.97,"hi":1},
{"p":"b20","m":"xNES","i":180,"y":0.999,"lo":0.97,"hi":1},
{"p":"b20","m":"xNES","i":185,"y":0.999,"lo":0.98,"hi":1},
{"p":"b20","m":"xNES","i":190,"y":0.999,"lo":0.985,"hi":1},
{"p":"b20","m":"xNES","i":195,"y":1,"lo":0.99,"hi":1},
{"p":"b20","m":"xNES","i":199,"y":1,"lo":0.995,"hi":1}
]},
"data": {"name": "runs"},
"vconcat": [
 {
  "vconcat": [
   {
    "width": 692, "height": 84,
    "view": {"stroke": null},
    "layer": [
     {"data": {"values": [{"edge": "top"}]}, "mark": {"type": "rule", "color": "#000", "strokeWidth": 2}, "encoding": {"y": {"datum": 2, "type": "quantitative", "scale": {"domain": [0, 2]}, "axis": null}}},
     {"data": {"values": [{"edge": "mid"}]}, "mark": {"type": "rule", "color": "#000", "strokeWidth": 0.9}, "encoding": {"y": {"datum": 1, "type": "quantitative", "scale": {"domain": [0, 2]}, "axis": null}}},
     {"data": {"values": [{"edge": "bottom"}]}, "mark": {"type": "rule", "color": "#000", "strokeWidth": 1.3}, "encoding": {"y": {"datum": 0, "type": "quantitative", "scale": {"domain": [0, 2]}, "axis": null}}},
     {"data": {"values": [{"row": "layers", "label": "10 layers"}, {"row": "layers", "label": "20 layers"}]}, "mark": {"type": "text", "font": "Liberation Serif", "fontSize": 25, "color": "#000", "baseline": "middle"}, "encoding": {"x": {"field": "label", "type": "nominal", "axis": null, "scale": {"domain": ["10 layers", "20 layers"]}}, "y": {"field": "row", "type": "nominal", "axis": null, "scale": {"domain": ["layers", "qubits"]}}, "text": {"field": "label"}}},
     {"data": {"values": [{"row": "qubits", "label": "a) 5 qubits"}]}, "mark": {"type": "text", "font": "Liberation Serif", "fontSize": 25, "color": "#000", "baseline": "middle"}, "encoding": {"y": {"field": "row", "type": "nominal", "axis": null, "scale": {"domain": ["layers", "qubits"]}}, "text": {"field": "label"}}}
    ],
    "resolve": {"scale": {"y": "independent"}}
   },
   {
    "hconcat": [
     {
      "width": 257, "height": 171,
      "transform": [{"filter": "datum.p === 'a10'"}],
      "encoding": {"x": {"field": "i", "type": "quantitative", "scale": {"domain": [-9.95, 208.95], "nice": false, "zero": false}, "axis": {"values": [0, 50, 100, 150, 200], "tickCount": 10, "title": "iterations", "labelFontSize": 12, "titleFontSize": 12, "labelFont": "DejaVu Sans", "titleFont": "DejaVu Sans", "titleFontWeight": "normal", "labelPadding": 1, "titlePadding": 2, "labelOverlap": false, "labelFlush": false, "ticks": false, "domain": false, "grid": false, "labelColor": "#111", "titleColor": "#111"}}},
      "layer": [
       {"mark": {"type": "area", "fillOpacity": 0.2}, "encoding": {"y": {"field": "lo", "type": "quantitative", "scale": {"domain": [-0.05, 1.05], "nice": false, "zero": false}, "axis": {"values": [0, 0.2, 0.4, 0.6, 0.8, 1], "tickCount": 10, "format": ".1f", "title": "Loss (1 − E)²", "labelFontSize": 12, "titleFontSize": 12, "labelFont": "DejaVu Sans", "titleFont": "DejaVu Sans", "titleFontWeight": "normal", "labelPadding": 4, "titlePadding": 2, "labelOverlap": false, "ticks": false, "domain": false, "grid": false, "labelColor": "#111", "titleColor": "#111"}}, "y2": {"field": "hi"}, "fill": {"field": "m", "type": "nominal", "scale": {"domain": ["gradient-descent", "sNES", "xNES"], "range": ["#0000ff", "#ff0000", "#008000"]}, "legend": null}}},
       {"mark": {"type": "line", "strokeWidth": 1.5, "strokeDash": [4, 2]}, "encoding": {"y": {"field": "y", "type": "quantitative"}, "color": {"field": "m", "type": "nominal", "scale": {"domain": ["sNES", "xNES", "gradient-descent"], "range": ["#ff0000", "#008000", "#0000ff"]}, "legend": {"title": null, "orient": "none", "legendX": 102, "legendY": 6, "zindex": 1, "symbolType": "M-3,0H3", "symbolSize": 64, "symbolStrokeWidth": 1.5, "symbolDash": [4, 2], "symbolOffset": 8, "labelFont": "DejaVu Sans", "labelFontSize": 12, "labelColor": "#111", "labelOffset": 18, "padding": 5, "rowPadding": 6, "fillColor": "rgba(255,255,255,0.8)", "strokeColor": "#cccccc", "cornerRadius": 3, "encode": {"legend": {"fill": {"value": "#ffffff"}, "fillOpacity": {"value": 0.8}, "stroke": {"value": "#cccccc"}, "strokeWidth": {"value": 1}, "cornerRadius": {"value": 3}}}}}}},
       {"transform": [{"filter": "(datum.m==='sNES'&&datum.i>=20)||(datum.m==='xNES'&&datum.i>=18)||(datum.m==='gradient-descent'&&datum.i>=9)"}], "mark": {"type": "line", "strokeWidth": 1.5}, "encoding": {"y": {"field": "y", "type": "quantitative"}, "color": {"field": "m", "type": "nominal", "scale": {"domain": ["sNES", "xNES", "gradient-descent"], "range": ["#ff0000", "#008000", "#0000ff"]}}}}
      ]
     },
     {
      "width": 258, "height": 171,
      "transform": [{"filter": "datum.p === 'a20'"}],
      "encoding": {"x": {"field": "i", "type": "quantitative", "scale": {"domain": [-9.95, 208.95], "nice": false, "zero": false}, "axis": {"values": [0, 50, 100, 150, 200], "tickCount": 10, "title": "iterations", "labelFontSize": 12, "titleFontSize": 12, "labelFont": "DejaVu Sans", "titleFont": "DejaVu Sans", "titleFontWeight": "normal", "labelPadding": 1, "titlePadding": 2, "labelOverlap": false, "labelFlush": false, "ticks": false, "domain": false, "grid": false, "labelColor": "#111", "titleColor": "#111"}}},
      "layer": [
       {"mark": {"type": "area", "fillOpacity": 0.2}, "encoding": {"y": {"field": "lo", "type": "quantitative", "scale": {"domain": [-0.05, 1.05], "nice": false, "zero": false}, "axis": {"values": [0, 0.2, 0.4, 0.6, 0.8, 1], "tickCount": 10, "format": ".1f", "title": "Loss (1 − E)²", "labelFontSize": 12, "titleFontSize": 12, "labelFont": "DejaVu Sans", "titleFont": "DejaVu Sans", "titleFontWeight": "normal", "labelPadding": 4, "titlePadding": 2, "labelOverlap": false, "ticks": false, "domain": false, "grid": false, "labelColor": "#111", "titleColor": "#111"}}, "y2": {"field": "hi"}, "fill": {"field": "m", "type": "nominal", "scale": {"domain": ["gradient-descent", "sNES", "xNES"], "range": ["#0000ff", "#ff0000", "#008000"]}, "legend": null}}},
       {"mark": {"type": "line", "strokeWidth": 1.5, "strokeDash": [4, 2]}, "encoding": {"y": {"field": "y", "type": "quantitative"}, "color": {"field": "m", "type": "nominal", "scale": {"domain": ["sNES", "xNES", "gradient-descent"], "range": ["#ff0000", "#008000", "#0000ff"]}, "legend": {"title": null, "orient": "none", "legendX": 103, "legendY": 6, "zindex": 1, "symbolType": "M-3,0H3", "symbolSize": 64, "symbolStrokeWidth": 1.5, "symbolDash": [4, 2], "symbolOffset": 8, "labelFont": "DejaVu Sans", "labelFontSize": 12, "labelColor": "#111", "labelOffset": 18, "padding": 5, "rowPadding": 6, "fillColor": "rgba(255,255,255,0.8)", "strokeColor": "#cccccc", "cornerRadius": 3, "encode": {"legend": {"fill": {"value": "#ffffff"}, "fillOpacity": {"value": 0.8}, "stroke": {"value": "#cccccc"}, "strokeWidth": {"value": 1}, "cornerRadius": {"value": 3}}}}}}},
       {"transform": [{"filter": "(datum.m==='sNES'&&datum.i>=20)||(datum.m==='xNES'&&datum.i>=20)||(datum.m==='gradient-descent'&&datum.i>=8)"}], "mark": {"type": "line", "strokeWidth": 1.5}, "encoding": {"y": {"field": "y", "type": "quantitative"}, "color": {"field": "m", "type": "nominal", "scale": {"domain": ["sNES", "xNES", "gradient-descent"], "range": ["#ff0000", "#008000", "#0000ff"]}}}}
      ]
     }
    ],
    "spacing": 85,
    "bounds": "flush",
    "resolve": {"scale": {"color": "independent", "fill": "independent"}, "legend": {"color": "independent", "fill": "independent"}}
   }
  ],
  "spacing": 31,
  "center": true,
  "resolve": {"scale": {"color": "independent", "fill": "independent"}, "legend": {"color": "independent", "fill": "independent"}}
 },
 {
  "vconcat": [
   {
    "width": 692, "height": 43,
    "view": {"stroke": null},
    "layer": [
     {"data": {"values": [{"edge": "top"}]}, "mark": {"type": "rule", "color": "#000", "strokeWidth": 1.3}, "encoding": {"y": {"datum": 1, "type": "quantitative", "scale": {"domain": [0, 1]}, "axis": null}}},
     {"data": {"values": [{"edge": "bottom"}]}, "mark": {"type": "rule", "color": "#000", "strokeWidth": 1.3}, "encoding": {"y": {"datum": 0, "type": "quantitative", "scale": {"domain": [0, 1]}, "axis": null}}},
     {"data": {"values": [{"label": "b) 10 qubits"}]}, "mark": {"type": "text", "font": "Liberation Serif", "fontSize": 25, "color": "#000", "baseline": "middle"}, "encoding": {"text": {"field": "label"}}}
    ]
   },
   {
    "hconcat": [
     {
      "width": 257, "height": 171,
      "transform": [{"filter": "datum.p === 'b10'"}],
      "encoding": {"x": {"field": "i", "type": "quantitative", "scale": {"domain": [-9.95, 208.95], "nice": false, "zero": false}, "axis": {"values": [0, 50, 100, 150, 200], "tickCount": 10, "title": "iterations", "labelFontSize": 12, "titleFontSize": 12, "labelFont": "DejaVu Sans", "titleFont": "DejaVu Sans", "titleFontWeight": "normal", "labelPadding": 1, "titlePadding": 2, "labelOverlap": false, "labelFlush": false, "ticks": false, "domain": false, "grid": false, "labelColor": "#111", "titleColor": "#111"}}},
      "layer": [
       {"mark": {"type": "area", "fillOpacity": 0.2}, "encoding": {"y": {"field": "lo", "type": "quantitative", "scale": {"domain": [-0.05, 1.05], "nice": false, "zero": false}, "axis": {"values": [0, 0.2, 0.4, 0.6, 0.8, 1], "tickCount": 10, "format": ".1f", "title": "Loss (1 − E)²", "labelFontSize": 12, "titleFontSize": 12, "labelFont": "DejaVu Sans", "titleFont": "DejaVu Sans", "titleFontWeight": "normal", "labelPadding": 4, "titlePadding": 2, "labelOverlap": false, "ticks": false, "domain": false, "grid": false, "labelColor": "#111", "titleColor": "#111"}}, "y2": {"field": "hi"}, "fill": {"field": "m", "type": "nominal", "scale": {"domain": ["gradient-descent", "sNES", "xNES"], "range": ["#0000ff", "#ff0000", "#008000"]}, "legend": null}}},
       {"mark": {"type": "line", "strokeWidth": 1.5, "strokeDash": [4, 2]}, "encoding": {"y": {"field": "y", "type": "quantitative"}, "color": {"field": "m", "type": "nominal", "scale": {"domain": ["sNES", "xNES", "gradient-descent"], "range": ["#ff0000", "#008000", "#0000ff"]}, "legend": {"title": null, "orient": "none", "legendX": 102, "legendY": 6, "zindex": 1, "symbolType": "M-3,0H3", "symbolSize": 64, "symbolStrokeWidth": 1.5, "symbolDash": [4, 2], "symbolOffset": 8, "labelFont": "DejaVu Sans", "labelFontSize": 12, "labelColor": "#111", "labelOffset": 18, "padding": 5, "rowPadding": 6, "fillColor": "rgba(255,255,255,0.8)", "strokeColor": "#cccccc", "cornerRadius": 3, "encode": {"legend": {"fill": {"value": "#ffffff"}, "fillOpacity": {"value": 0.8}, "stroke": {"value": "#cccccc"}, "strokeWidth": {"value": 1}, "cornerRadius": {"value": 3}}}}}}},
       {"transform": [{"filter": "(datum.m==='sNES'&&datum.i>=38)||(datum.m==='xNES'&&datum.i>=30)||(datum.m==='gradient-descent'&&datum.i>=32)"}], "mark": {"type": "line", "strokeWidth": 1.5}, "encoding": {"y": {"field": "y", "type": "quantitative"}, "color": {"field": "m", "type": "nominal", "scale": {"domain": ["sNES", "xNES", "gradient-descent"], "range": ["#ff0000", "#008000", "#0000ff"]}}}},
       {"transform": [{"filter": "datum.m==='gradient-descent'&&datum.i<=20"}], "mark": {"type": "line", "strokeWidth": 1.5}, "encoding": {"y": {"field": "y", "type": "quantitative"}, "color": {"field": "m", "type": "nominal", "scale": {"domain": ["sNES", "xNES", "gradient-descent"], "range": ["#ff0000", "#008000", "#0000ff"]}}}}
      ]
     },
     {
      "width": 258, "height": 171,
      "transform": [{"filter": "datum.p === 'b20'"}],
      "encoding": {"x": {"field": "i", "type": "quantitative", "scale": {"domain": [-9.95, 208.95], "nice": false, "zero": false}, "axis": {"values": [0, 50, 100, 150, 200], "tickCount": 10, "title": "iterations", "labelFontSize": 12, "titleFontSize": 12, "labelFont": "DejaVu Sans", "titleFont": "DejaVu Sans", "titleFontWeight": "normal", "labelPadding": 1, "titlePadding": 2, "labelOverlap": false, "labelFlush": false, "ticks": false, "domain": false, "grid": false, "labelColor": "#111", "titleColor": "#111"}}},
      "layer": [
       {"mark": {"type": "area", "fillOpacity": 0.2}, "encoding": {"y": {"field": "lo", "type": "quantitative", "scale": {"domain": [-0.05, 1.05], "nice": false, "zero": false}, "axis": {"values": [0, 0.2, 0.4, 0.6, 0.8, 1], "tickCount": 10, "format": ".1f", "title": "Loss (1 − E)²", "labelFontSize": 12, "titleFontSize": 12, "labelFont": "DejaVu Sans", "titleFont": "DejaVu Sans", "titleFontWeight": "normal", "labelPadding": 4, "titlePadding": 2, "labelOverlap": false, "ticks": false, "domain": false, "grid": false, "labelColor": "#111", "titleColor": "#111"}}, "y2": {"field": "hi"}, "fill": {"field": "m", "type": "nominal", "scale": {"domain": ["gradient-descent", "sNES", "xNES"], "range": ["#0000ff", "#ff0000", "#008000"]}, "legend": null}}},
       {"mark": {"type": "line", "strokeWidth": 1.5, "strokeDash": [4, 2]}, "encoding": {"y": {"field": "y", "type": "quantitative"}, "color": {"field": "m", "type": "nominal", "scale": {"domain": ["sNES", "xNES", "gradient-descent"], "range": ["#ff0000", "#008000", "#0000ff"]}, "legend": {"title": null, "orient": "none", "legendX": 103, "legendY": 58, "zindex": 1, "symbolType": "M-3,0H3", "symbolSize": 64, "symbolStrokeWidth": 1.5, "symbolDash": [4, 2], "symbolOffset": 8, "labelFont": "DejaVu Sans", "labelFontSize": 12, "labelColor": "#111", "labelOffset": 18, "padding": 5, "rowPadding": 6, "fillColor": "rgba(255,255,255,0.8)", "strokeColor": "#cccccc", "cornerRadius": 3, "encode": {"legend": {"fill": {"value": "#ffffff"}, "fillOpacity": {"value": 0.8}, "stroke": {"value": "#cccccc"}, "strokeWidth": {"value": 1}, "cornerRadius": {"value": 3}}}}}}},
       {"transform": [{"filter": "(datum.m==='sNES'&&datum.i>=12)||datum.m==='xNES'||(datum.m==='gradient-descent'&&datum.i>=32)"}], "mark": {"type": "line", "strokeWidth": 1.5}, "encoding": {"y": {"field": "y", "type": "quantitative"}, "color": {"field": "m", "type": "nominal", "scale": {"domain": ["sNES", "xNES", "gradient-descent"], "range": ["#ff0000", "#008000", "#0000ff"]}}}},
       {"transform": [{"filter": "datum.m==='gradient-descent'&&datum.i<=18"}], "mark": {"type": "line", "strokeWidth": 1.5}, "encoding": {"y": {"field": "y", "type": "quantitative"}, "color": {"field": "m", "type": "nominal", "scale": {"domain": ["sNES", "xNES", "gradient-descent"], "range": ["#ff0000", "#008000", "#0000ff"]}}}}
      ]
     }
    ],
    "spacing": 85,
    "bounds": "flush",
    "resolve": {"scale": {"color": "independent", "fill": "independent"}, "legend": {"color": "independent", "fill": "independent"}}
   }
  ],
  "spacing": 31,
  "center": true,
  "resolve": {"scale": {"color": "independent", "fill": "independent"}, "legend": {"color": "independent", "fill": "independent"}}
 }
],
"spacing": 11,
"resolve": {"scale": {"color": "independent", "fill": "independent"}, "legend": {"color": "independent", "fill": "independent"}}
}
